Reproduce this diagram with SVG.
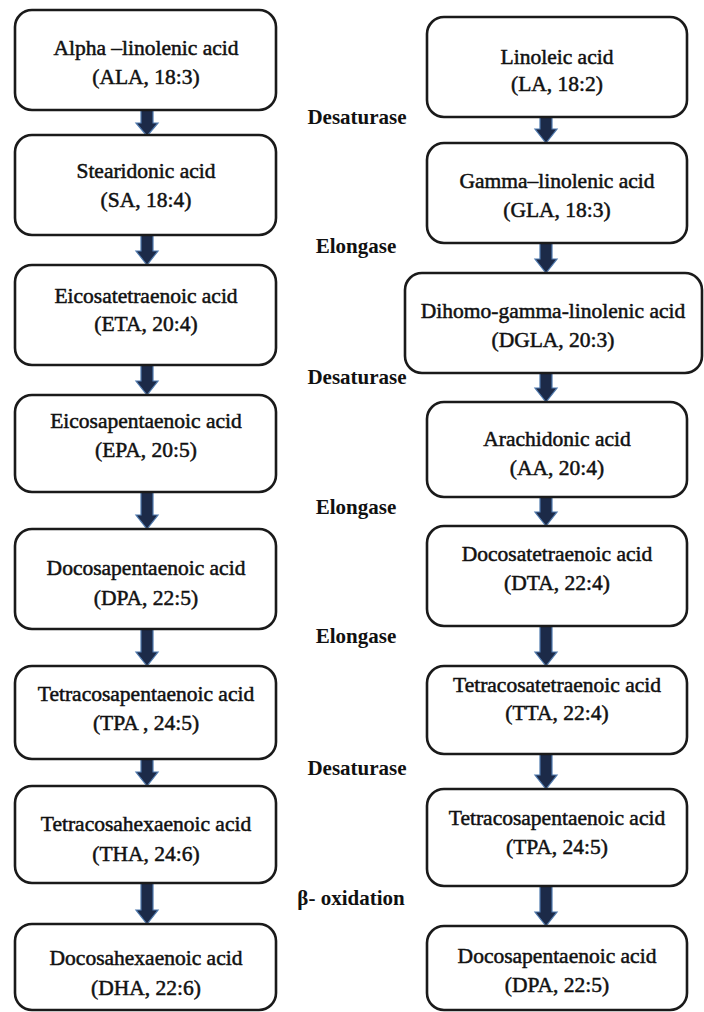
<svg xmlns="http://www.w3.org/2000/svg" width="704" height="1012" viewBox="0 0 704 1012">
<defs>
<style>
.box{fill:#fff;stroke:#1a1a1a;stroke-width:2.6}
.t{font-family:'Liberation Serif','Times New Roman',serif;font-size:21.5px;fill:#111;stroke:#111;stroke-width:0.5;text-anchor:middle}
.lab{font-family:'Liberation Serif','Times New Roman',serif;font-size:21px;font-weight:bold;fill:#111;text-anchor:middle}
.arr{fill:#1c2a48;stroke:#4f79ad;stroke-width:1.2;stroke-linejoin:miter}
</style>
</defs>
<rect width="704" height="1012" fill="#fff"/>
<g id="connectors">
<path class="arr" d="M141 110 H153 V123 H158 L147 136 L136 123 H141 Z"/>
<path class="arr" d="M141 235 H153 V251 H158 L147 265 L136 251 H141 Z"/>
<path class="arr" d="M141 365 H153 V381 H158 L147 395 L136 381 H141 Z"/>
<path class="arr" d="M141 492 H153 V515 H158 L147 529 L136 515 H141 Z"/>
<path class="arr" d="M141 629 H153 V652 H158 L147 666 L136 652 H141 Z"/>
<path class="arr" d="M141 759 H153 V772 H158 L147 786 L136 772 H141 Z"/>
<path class="arr" d="M141 883 H153 V910 H158 L147 924 L136 910 H141 Z"/>
<path class="arr" d="M540 117 H552 V129 H557 L546 143 L535 129 H540 Z"/>
<path class="arr" d="M540 243 H552 V259 H557 L546 273 L535 259 H540 Z"/>
<path class="arr" d="M540 373 H552 V388 H557 L546 402 L535 388 H540 Z"/>
<path class="arr" d="M540 497 H552 V512 H557 L546 526 L535 512 H540 Z"/>
<path class="arr" d="M540 626 H552 V652 H557 L546 666 L535 652 H540 Z"/>
<path class="arr" d="M540 754 H552 V775 H557 L546 789 L535 775 H540 Z"/>
<path class="arr" d="M540 886 H552 V912 H557 L546 926 L535 912 H540 Z"/>
</g>
<g id="labels">
<text class="lab" x="357" y="124">Desaturase</text>
<text class="lab" x="356" y="253">Elongase</text>
<text class="lab" x="357" y="384">Desaturase</text>
<text class="lab" x="356" y="514">Elongase</text>
<text class="lab" x="356" y="643">Elongase</text>
<text class="lab" x="357" y="775">Desaturase</text>
<text class="lab" x="351" y="905">β- oxidation</text>
</g>
<g id="nodes">
<g id="ala"><rect class="box" x="15" y="10" width="261" height="100" rx="17"/><text class="t" x="146" y="55">Alpha –linolenic acid</text><text class="t" x="146" y="84">(ALA, 18:3)</text></g>
<g id="sa"><rect class="box" x="15" y="135" width="261" height="100" rx="17"/><text class="t" x="146" y="178">Stearidonic acid</text><text class="t" x="146" y="207">(SA, 18:4)</text></g>
<g id="eta"><rect class="box" x="15" y="265" width="261" height="100" rx="17"/><text class="t" x="146" y="303">Eicosatetraenoic acid</text><text class="t" x="146" y="331">(ETA, 20:4)</text></g>
<g id="epa"><rect class="box" x="15" y="395" width="261" height="97" rx="17"/><text class="t" x="146" y="428">Eicosapentaenoic acid</text><text class="t" x="146" y="457">(EPA, 20:5)</text></g>
<g id="dpa"><rect class="box" x="15" y="529" width="261" height="100" rx="17"/><text class="t" x="146" y="575">Docosapentaenoic acid</text><text class="t" x="146" y="605">(DPA, 22:5)</text></g>
<g id="tpa-l"><rect class="box" x="15" y="666" width="261" height="93" rx="17"/><text class="t" x="146" y="701">Tetracosapentaenoic acid</text><text class="t" x="146" y="730">(TPA , 24:5)</text></g>
<g id="tha"><rect class="box" x="15" y="786" width="261" height="97" rx="17"/><text class="t" x="146" y="831">Tetracosahexaenoic acid</text><text class="t" x="146" y="861">(THA, 24:6)</text></g>
<g id="dha"><rect class="box" x="15" y="924" width="261" height="86" rx="17"/><text class="t" x="146" y="965">Docosahexaenoic acid</text><text class="t" x="146" y="995">(DHA, 22:6)</text></g>
<g id="la"><rect class="box" x="427" y="17" width="260" height="100" rx="17"/><text class="t" x="557" y="64">Linoleic acid</text><text class="t" x="557" y="91">(LA, 18:2)</text></g>
<g id="gla"><rect class="box" x="427" y="143" width="260" height="100" rx="17"/><text class="t" x="557" y="188">Gamma–linolenic acid</text><text class="t" x="557" y="217">(GLA, 18:3)</text></g>
<g id="dgla"><rect class="box" x="405" y="273" width="297" height="100" rx="17"/><text class="t" x="553" y="318">Dihomo-gamma-linolenic acid</text><text class="t" x="553" y="347">(DGLA, 20:3)</text></g>
<g id="aa"><rect class="box" x="427" y="402" width="260" height="95" rx="17"/><text class="t" x="557" y="446">Arachidonic acid</text><text class="t" x="557" y="475">(AA, 20:4)</text></g>
<g id="dta"><rect class="box" x="427" y="526" width="260" height="100" rx="17"/><text class="t" x="557" y="561">Docosatetraenoic acid</text><text class="t" x="557" y="590">(DTA, 22:4)</text></g>
<g id="tta"><rect class="box" x="427" y="666" width="260" height="88" rx="17"/><text class="t" x="557" y="692">Tetracosatetraenoic acid</text><text class="t" x="557" y="720">(TTA, 22:4)</text></g>
<g id="tpa-r"><rect class="box" x="427" y="789" width="260" height="97" rx="17"/><text class="t" x="557" y="825">Tetracosapentaenoic acid</text><text class="t" x="557" y="854">(TPA, 24:5)</text></g>
<g id="dpa-r"><rect class="box" x="427" y="926" width="260" height="84" rx="17"/><text class="t" x="557" y="963">Docosapentaenoic acid</text><text class="t" x="557" y="992">(DPA, 22:5)</text></g>
</g>
</svg>
